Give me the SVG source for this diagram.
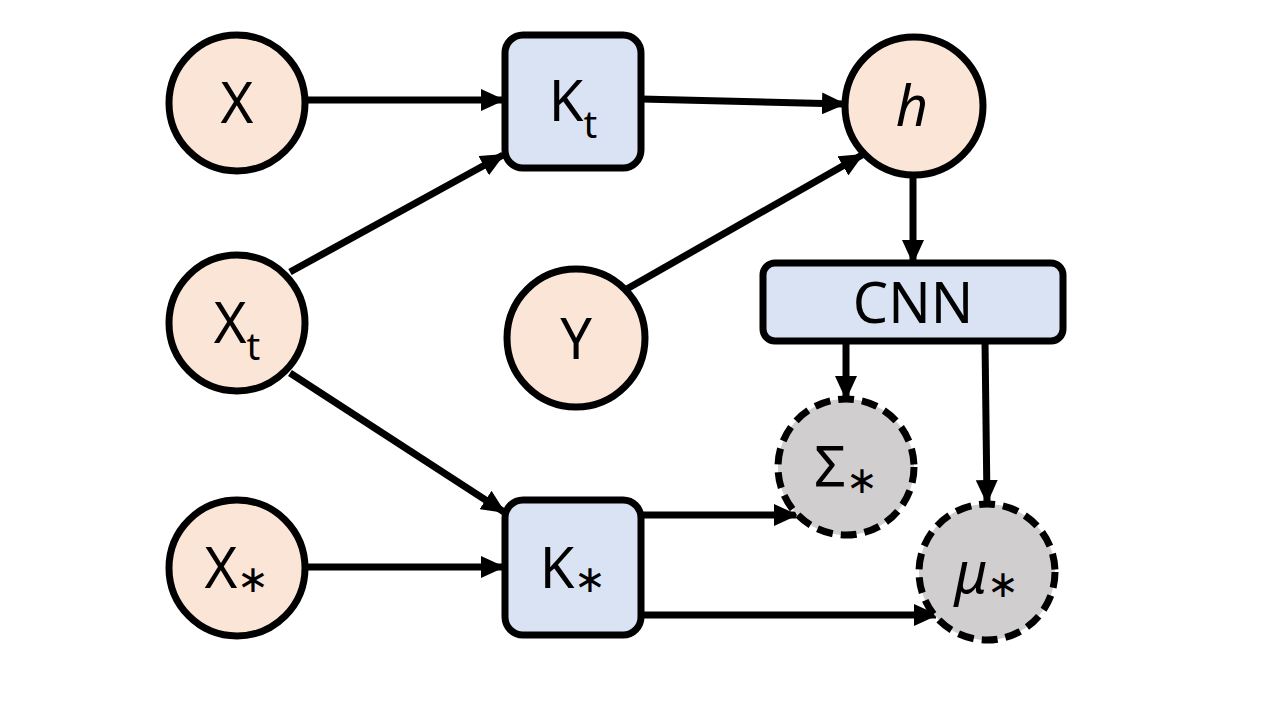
<svg xmlns="http://www.w3.org/2000/svg" width="1280" height="720" viewBox="0 0 1280 720">
<style>
.c{fill:#FBE5D6;stroke:#000;stroke-width:7}
.b{fill:#DAE3F3;stroke:#000;stroke-width:7}
.d{fill:#D0CECE;stroke:#000;stroke-width:7;stroke-dasharray:16 8}
.t{font-family:"Noto Sans","Open Sans",sans-serif;font-size:56px;fill:#000;text-anchor:middle}
.s{font-size:38px}
.e{stroke:#000;stroke-width:7;fill:none;marker-end:url(#a)}
</style>
<defs>
<marker id="a" markerUnits="userSpaceOnUse" markerWidth="24" markerHeight="22" refX="22" refY="11" orient="auto" viewBox="0 0 24 22">
<path d="M0,0 L24,11 L0,22 z" fill="#000"/>
</marker>
</defs>
<rect width="1280" height="720" fill="#fff"/>
<g id="connectors">
<line class="e" x1="305" y1="100" x2="503" y2="100"/>
<line class="e" x1="641" y1="99" x2="844" y2="104"/>
<line class="e" x1="290" y1="272" x2="503" y2="155"/>
<line class="e" x1="625" y1="290" x2="862" y2="155"/>
<line class="e" x1="913" y1="175" x2="913" y2="262"/>
<line class="e" x1="846" y1="341" x2="846" y2="398"/>
<line class="e" x1="985" y1="341" x2="987" y2="502"/>
<line class="e" x1="290" y1="373" x2="504" y2="512"/>
<line class="e" x1="305" y1="567" x2="503" y2="567"/>
<line class="e" x1="641" y1="515" x2="796" y2="515"/>
<line class="e" x1="641" y1="615" x2="936" y2="615"/>
</g>
<g id="node-X"><circle class="c" cx="237" cy="103" r="68"/><text class="t" x="237" y="123">X</text></g>
<g id="node-Xt"><circle class="c" cx="237" cy="323" r="68"/><text class="t" x="237" y="343">X<tspan class="s" dy="17">t</tspan></text></g>
<g id="node-Xs"><circle class="c" cx="237" cy="568" r="68"/><text class="t" x="237" y="588">X<tspan class="s" dy="4">∗</tspan></text></g>
<g id="node-Y"><circle class="c" cx="576" cy="338" r="69"/><text class="t" x="576" y="359">Y</text></g>
<g id="node-h"><circle class="c" cx="914" cy="106" r="69"/><text class="t" x="912" y="126" font-style="italic">h</text></g>
<g id="node-Kt"><rect class="b" x="505" y="35" width="136" height="133" rx="18"/><text class="t" x="573" y="121">K<tspan class="s" dy="17">t</tspan></text></g>
<g id="node-Ks"><rect class="b" x="505" y="500" width="136" height="135" rx="18"/><text class="t" x="573" y="588">K<tspan class="s" dy="4">∗</tspan></text></g>
<g id="node-CNN"><rect class="b" x="763" y="263" width="300" height="78" rx="12"/><text class="t" x="913" y="323">CNN</text></g>
<g id="node-Sigma"><circle class="d" cx="846" cy="467" r="68"/><text class="t" x="846" y="487">Σ<tspan class="s" dy="6">∗</tspan></text></g>
<g id="node-mu"><circle class="d" cx="987" cy="572" r="68"/><text class="t" x="987" y="593"><tspan font-style="italic">μ</tspan><tspan class="s" dy="4">∗</tspan></text></g>
</svg>
